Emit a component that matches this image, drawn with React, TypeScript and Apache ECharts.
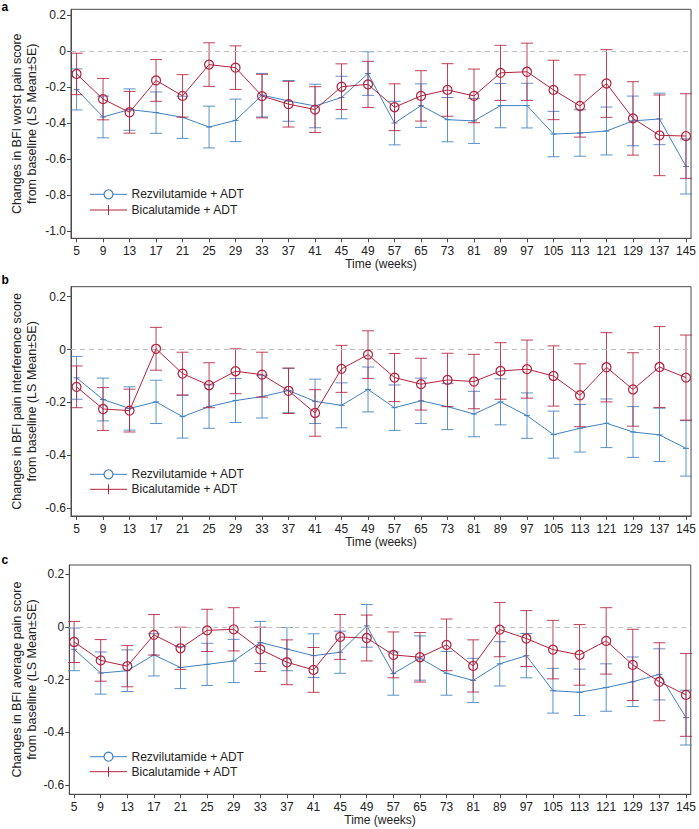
import React, { useEffect, useRef } from "react";
import * as echarts from "echarts";

const WEEKS = [5, 9, 13, 17, 21, 25, 29, 33, 37, 41, 45, 49, 57, 65, 73, 81, 89, 97, 105, 113, 121, 129, 137, 145];

// Panel a: BFI worst pain
const aRezMean = [-0.213, -0.366, -0.325, -0.342, -0.368, -0.422, -0.385, -0.245, -0.277, -0.305, -0.258, -0.125, -0.4, -0.303, -0.381, -0.388, -0.303, -0.303, -0.461, -0.455, -0.444, -0.388, -0.377, -0.641];
const aRezSE = [0.114, 0.116, 0.115, 0.115, 0.117, 0.116, 0.118, 0.121, 0.113, 0.121, 0.118, 0.121, 0.121, 0.121, 0.123, 0.125, 0.123, 0.124, 0.126, 0.129, 0.133, 0.138, 0.143, 0.153];
const aBicMean = [-0.127, -0.267, -0.34, -0.163, -0.249, -0.075, -0.092, -0.25, -0.295, -0.325, -0.198, -0.185, -0.312, -0.249, -0.216, -0.249, -0.121, -0.115, -0.216, -0.305, -0.18, -0.374, -0.468, -0.472];
const aBicSE = [0.115, 0.115, 0.116, 0.116, 0.118, 0.121, 0.121, 0.121, 0.127, 0.127, 0.127, 0.128, 0.13, 0.14, 0.146, 0.149, 0.153, 0.159, 0.165, 0.173, 0.188, 0.204, 0.224, 0.235];

// Panel b: BFI pain interference
const bRezMean = [-0.107, -0.189, -0.223, -0.198, -0.254, -0.216, -0.193, -0.178, -0.155, -0.196, -0.211, -0.151, -0.22, -0.194, -0.216, -0.244, -0.198, -0.25, -0.322, -0.298, -0.279, -0.312, -0.323, -0.374];
const bRezSE = [0.081, 0.081, 0.082, 0.082, 0.081, 0.082, 0.083, 0.081, 0.084, 0.084, 0.085, 0.085, 0.086, 0.086, 0.087, 0.086, 0.087, 0.086, 0.089, 0.09, 0.092, 0.096, 0.101, 0.105];
const bBicMean = [-0.141, -0.225, -0.231, 0.003, -0.091, -0.135, -0.082, -0.095, -0.156, -0.24, -0.073, -0.019, -0.106, -0.131, -0.115, -0.121, -0.081, -0.074, -0.1, -0.173, -0.067, -0.151, -0.066, -0.106];
const bBicSE = [0.079, 0.081, 0.081, 0.081, 0.081, 0.085, 0.085, 0.085, 0.086, 0.088, 0.089, 0.09, 0.091, 0.098, 0.101, 0.103, 0.107, 0.11, 0.114, 0.119, 0.131, 0.139, 0.153, 0.161];

// Panel c: BFI average pain
const cRezMean = [-0.085, -0.175, -0.166, -0.106, -0.154, -0.142, -0.129, -0.059, -0.084, -0.109, -0.096, 0.004, -0.177, -0.118, -0.176, -0.203, -0.14, -0.109, -0.242, -0.248, -0.23, -0.208, -0.18, -0.344];
const cRezSE = [0.081, 0.08, 0.079, 0.08, 0.08, 0.08, 0.082, 0.08, 0.082, 0.083, 0.08, 0.081, 0.082, 0.084, 0.083, 0.084, 0.084, 0.084, 0.085, 0.088, 0.09, 0.094, 0.097, 0.104];
const cBicMean = [-0.057, -0.127, -0.149, -0.03, -0.081, -0.013, -0.009, -0.085, -0.134, -0.163, -0.038, -0.042, -0.106, -0.115, -0.068, -0.148, -0.01, -0.044, -0.086, -0.106, -0.053, -0.144, -0.208, -0.258];
const cBicSE = [0.078, 0.079, 0.078, 0.077, 0.08, 0.08, 0.082, 0.084, 0.085, 0.085, 0.085, 0.087, 0.087, 0.094, 0.098, 0.099, 0.103, 0.106, 0.111, 0.115, 0.126, 0.135, 0.148, 0.157];

const aTicks = [0.2, 0, -0.2, -0.4, -0.6, -0.8, -1.0];
const bTicks = [0.2, 0, -0.2, -0.4, -0.6];
const cTicks = [0.2, 0, -0.2, -0.4, -0.6];

const TITLE_LINE2 = "from baseline (LS Mean\u00b1SE)";
const aTitle = "Changes in BFI worst pain score";
const bTitle = "Changes in BFI pain interference score";
const cTitle = "Changes in BFI average pain score";
const LEGEND_REZ = "Rezvilutamide + ADT";
const LEGEND_BIC = "Bicalutamide + ADT";
const X_NAME = "Time (weeks)";

const BLUE = "#3f80c0";
const RED = "#b3213d";
const FONT = "'Liberation Sans', Arial, sans-serif";

export default function App() {
  const ref = useRef<HTMLDivElement>(null);

  useEffect(() => {
    if (!ref.current) return;
    const chart = echarts.init(ref.current, undefined, { renderer: "svg" });

    const panels = [
      { letter: "a", title: aTitle, rez: aRezMean, rezSE: aRezSE, bic: aBicMean, bicSE: aBicSE, ticks: aTicks,
        grid: { left: 71, right: 5, top: 9.3, height: 229 }, x: [-0.21, 23.19], y: [-1.04, 0.232],
        letterY: 6.5, legendY: [194.3, 210] },
      { letter: "b", title: bTitle, rez: bRezMean, rezSE: bRezSE, bic: bBicMean, bicSE: bBicSE, ticks: bTicks,
        grid: { left: 71, right: 5, top: 286.7, height: 229.3 }, x: [-0.21, 23.19], y: [-0.63, 0.238],
        letterY: 280, legendY: [474.3, 489.3] },
      { letter: "c", title: cTitle, rez: cRezMean, rezSE: cRezSE, bic: cBicMean, bicSE: cBicSE, ticks: cTicks,
        grid: { left: 69.3, right: 7, top: 565, height: 229.3 }, x: [-0.18, 23.18], y: [-0.635, 0.235],
        letterY: 559.5, legendY: [756.7, 771.7] },
    ];

    const idx = WEEKS.map((_, i) => i);
    const grids: any[] = [];
    const xAxes: any[] = [];
    const yAxes: any[] = [];
    const series: any[] = [];
    const graphics: any[] = [];

    const makeErr = (color: string, plus: boolean) => (params: any, api: any) => {
      const x = api.value(0);
      const m = api.value(1);
      const se = api.value(2);
      const top = api.coord([x, m + se]);
      const bot = api.coord([x, m - se]);
      const mid = api.coord([x, m]);
      const hw = 6;
      const st = { stroke: color, lineWidth: 1, opacity: 0.85 };
      const children: any[] = [
        { type: "line", shape: { x1: top[0], y1: top[1], x2: bot[0], y2: bot[1] }, style: st },
        { type: "line", shape: { x1: top[0] - hw, y1: top[1], x2: top[0] + hw, y2: top[1] }, style: st },
        { type: "line", shape: { x1: bot[0] - hw, y1: bot[1], x2: bot[0] + hw, y2: bot[1] }, style: st },
      ];
      if (plus) {
        children.push({ type: "line", shape: { x1: mid[0] - 3, y1: mid[1], x2: mid[0] + 3, y2: mid[1] }, style: { stroke: color, lineWidth: 1 } });
      }
      return { type: "group", children };
    };

    panels.forEach((p, k) => {
      grids.push({ ...p.grid, show: true, borderColor: "#4a4a4a", borderWidth: 1, backgroundColor: "transparent" });
      xAxes.push({
        type: "value", gridIndex: k, min: p.x[0], max: p.x[1],
        name: X_NAME, nameLocation: "middle", nameGap: 20,
        nameTextStyle: { fontSize: 12, color: "#222", fontFamily: FONT },
        axisLine: { show: true, onZero: false, lineStyle: { color: "#4a4a4a" } },
        axisTick: { show: true, length: 4, customValues: idx, lineStyle: { color: "#4a4a4a" } },
        axisLabel: { customValues: idx, margin: 7, fontSize: 12, color: "#222", fontFamily: FONT,
          formatter: (v: number) => String(WEEKS[Math.round(v)] ?? "") },
        splitLine: { show: false },
      });
      yAxes.push({
        type: "value", gridIndex: k, min: p.y[0], max: p.y[1],
        axisLine: { show: true, onZero: false, lineStyle: { color: "#4a4a4a" } },
        axisTick: { show: true, length: 4, customValues: p.ticks, lineStyle: { color: "#4a4a4a" } },
        axisLabel: { customValues: p.ticks, margin: 5, fontSize: 12, color: "#222", fontFamily: FONT,
          formatter: (v: number) => (Math.abs(v) < 1e-9 ? "0" : v.toFixed(1)) },
        splitLine: { show: false },
      });

      // error bars
      series.push({
        type: "custom", xAxisIndex: k, yAxisIndex: k, silent: true,
        renderItem: makeErr(BLUE, true),
        data: idx.map((i) => [i, p.rez[i], p.rezSE[i]]),
        encode: { x: 0, y: 1 }, z: 2,
      });
      series.push({
        type: "line", xAxisIndex: k, yAxisIndex: k, silent: true,
        data: idx.map((i) => [i, p.rez[i]]),
        symbol: "none", lineStyle: { color: BLUE, width: 1 }, itemStyle: { color: BLUE }, z: 3,
        markLine: {
          silent: true, symbol: ["none", "none"], label: { show: false },
          lineStyle: { color: "#bdbdbd", type: [5, 4], width: 1 },
          data: [{ yAxis: 0 }],
        },
      });
      series.push({
        type: "custom", xAxisIndex: k, yAxisIndex: k, silent: true,
        renderItem: makeErr(RED, false),
        data: idx.map((i) => [i, p.bic[i], p.bicSE[i]]),
        encode: { x: 0, y: 1 }, z: 4,
      });
      series.push({
        type: "line", xAxisIndex: k, yAxisIndex: k, silent: true,
        data: idx.map((i) => [i, p.bic[i]]),
        symbol: "circle", symbolSize: 9, showSymbol: true,
        lineStyle: { color: RED, width: 1 },
        itemStyle: { color: "rgba(0,0,0,0)", borderColor: RED, borderWidth: 1.2 }, z: 5,
      });

      // y-axis title (two lines, rotated)
      const cy = p.grid.top + p.grid.height / 2;
      graphics.push({ type: "text", x: 16.5, y: cy, rotation: Math.PI / 2,
        style: { text: p.title, fontSize: 12.5, fontFamily: FONT, fill: "#222", textAlign: "center", textVerticalAlign: "middle" } });
      graphics.push({ type: "text", x: 32.3, y: cy, rotation: Math.PI / 2,
        style: { text: TITLE_LINE2, fontSize: 12.5, fontFamily: FONT, fill: "#222", textAlign: "center", textVerticalAlign: "middle" } });

      // panel letter
      graphics.push({ type: "text", x: 1.5, y: p.letterY,
        style: { text: p.letter, fontSize: 12, fontWeight: "bold", fontFamily: FONT, fill: "#000", textAlign: "left", textVerticalAlign: "middle" } });

      // legend
      const [l1, l2] = p.legendY;
      const lx0 = 90, lx1 = 127, lcx = 108.5;
      graphics.push({ type: "line", shape: { x1: lx0, y1: l1, x2: lx1, y2: l1 }, style: { stroke: BLUE, lineWidth: 1 } });
      graphics.push({ type: "circle", shape: { cx: lcx, cy: l1, r: 4.5 }, style: { stroke: BLUE, fill: "#fff", lineWidth: 1.2 } });
      graphics.push({ type: "text", x: 131.5, y: l1,
        style: { text: LEGEND_REZ, fontSize: 12, fontFamily: FONT, fill: "#222", textAlign: "left", textVerticalAlign: "middle" } });
      graphics.push({ type: "line", shape: { x1: lx0, y1: l2, x2: lx1, y2: l2 }, style: { stroke: RED, lineWidth: 1 } });
      graphics.push({ type: "line", shape: { x1: lcx, y1: l2 - 5, x2: lcx, y2: l2 + 5 }, style: { stroke: RED, lineWidth: 1 } });
      graphics.push({ type: "text", x: 131.5, y: l2,
        style: { text: LEGEND_BIC, fontSize: 12, fontFamily: FONT, fill: "#222", textAlign: "left", textVerticalAlign: "middle" } });
    });

    chart.setOption({
      animation: false,
      backgroundColor: "#fff",
      textStyle: { fontFamily: FONT },
      grid: grids,
      xAxis: xAxes,
      yAxis: yAxes,
      series,
      graphic: graphics,
    });

    return () => chart.dispose();
  }, []);

  return <div ref={ref} style={{ position: "absolute", left: 0, top: 0, width: 699, height: 829 }} />;
}
